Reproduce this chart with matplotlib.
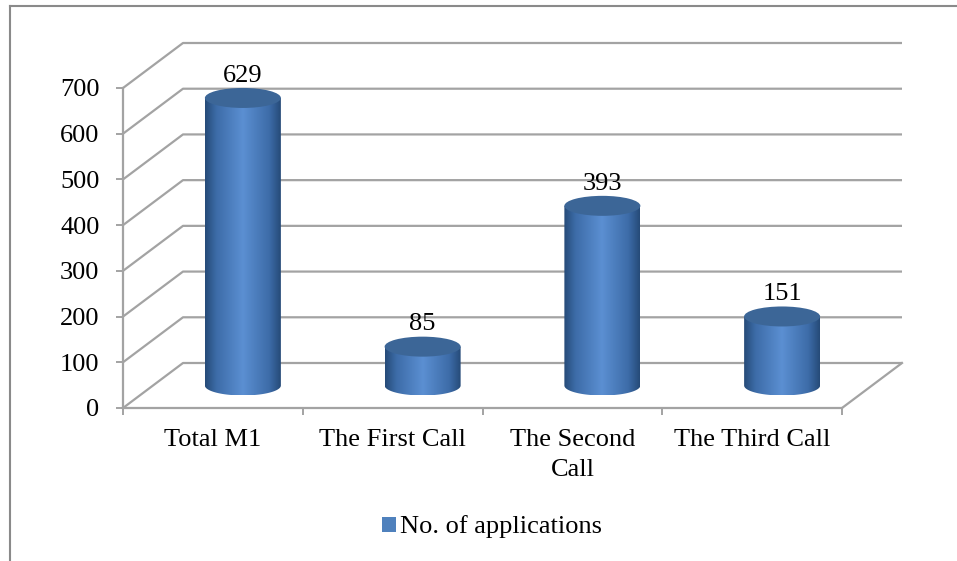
import numpy as np
import matplotlib.pyplot as plt
from matplotlib.patches import Polygon, Ellipse, Patch
from matplotlib.lines import Line2D
from matplotlib.colors import LinearSegmentedColormap

categories = ['Total M1', 'The First Call', 'The Second\nCall', 'The Third Call']
applications = [629, 85, 393, 151]
y_ticks = [0, 100, 200, 300, 400, 500, 600, 700]
series_name = 'No. of applications'

plt.rcParams['font.family'] = ['Liberation Serif', 'DejaVu Serif']
plt.rcParams['font.size'] = 19

W, H = 957, 561
fig = plt.figure(figsize=(W / 100, H / 100), dpi=100)
# front plane of the 3d box, in pixels: x 123..842, y 408 (0) .. 88 (700)
ax = fig.add_axes([123 / W, (H - 408) / H, (842 - 123) / W, (408 - 88) / H])
ax.set_xlim(-0.5, len(categories) - 0.5)
ax.set_ylim(0, 700)

# depth of the box (60px right, 45px up) in data units
ux = len(categories) / (842 - 123)
uy = 700 / (408 - 88)
dx, dy = 60 * ux, 45 * uy

grid_c = '#a3a3a3'
x0, x1 = -0.5, len(categories) - 0.5
for v in y_ticks:
    ax.plot([x0, x0 + dx, x1 + dx], [v, v + dy, v + dy], color=grid_c, lw=1.6,
            clip_on=False, zorder=1, solid_capstyle='butt')
ax.plot([x1, x1 + dx], [0, dy], color=grid_c, lw=1.6, clip_on=False, zorder=1)

for s in ['top', 'right']:
    ax.spines[s].set_visible(False)
for s in ['left', 'bottom']:
    ax.spines[s].set_color(grid_c)
    ax.spines[s].set_linewidth(1.6)

ax.set_yticks(y_ticks)
ax.tick_params(axis='y', length=5, width=1.4, color=grid_c, pad=12)
ax.set_xticks(np.arange(-0.5, len(categories)))
ax.set_xticklabels([])
ax.set_xticks(np.arange(len(categories)), minor=True)
ax.set_xticklabels(categories, minor=True, linespacing=1.5)
ax.tick_params(axis='x', which='major', length=5, width=1.4, color=grid_c)
ax.tick_params(axis='x', which='minor', length=0, pad=15)

cmap = LinearSegmentedColormap.from_list('cyl', [
    (0.0, '#264a78'), (0.15, '#3d6ca8'), (0.5, '#5b8fd2'),
    (0.85, '#3d6ca8'), (1.0, '#264a78')])
grad = np.linspace(0, 1, 256)[None, :]

w = 76 * ux     # cylinder width
eh = 20 * uy    # ellipse height
base = dy / 2
t = np.linspace(np.pi, 2 * np.pi, 80)
for i, v in enumerate(applications):
    cx = i + dx / 2
    top = base + v
    xs = np.r_[cx - w / 2, cx + w / 2 * np.cos(t), cx + w / 2]
    ys = np.r_[top, base + eh / 2 * np.sin(t), top]
    body = Polygon(np.column_stack([xs, ys]), closed=True, facecolor='none',
                   edgecolor='none', transform=ax.transData)
    ax.add_patch(body)
    im = ax.imshow(grad, cmap=cmap, extent=(cx - w / 2, cx + w / 2, base - eh / 2, top),
                   aspect='auto', origin='lower', zorder=3, interpolation='bilinear')
    im.set_clip_path(body)
    ax.add_patch(Ellipse((cx, top), w, eh, facecolor='#3c6697', edgecolor='none',
                         zorder=4, clip_on=False))
    ax.annotate(str(v), (cx, top + eh / 2), xytext=(0, 4.5), textcoords='offset points',
                ha='center', va='baseline', zorder=5, annotation_clip=False)

ax.set_xlim(-0.5, len(categories) - 0.5)
ax.set_ylim(0, 700)

fig.legend(handles=[Patch(facecolor='#4f81bd', label=series_name)], loc='center',
           bbox_to_anchor=(492 / W, 1 - 527 / H), frameon=False,
           handlelength=0.5, handleheight=0.5, handletextpad=0.15)

# outer chart border (left and top visible)
fig.add_artist(Line2D([10 / W, 10 / W], [0, 1 - 5.5 / H], color='#8a8a8a', lw=1.5))
fig.add_artist(Line2D([10 / W, 1], [1 - 5.5 / H, 1 - 5.5 / H], color='#8a8a8a', lw=1.5))

fig.savefig('out.png', dpi=100)
